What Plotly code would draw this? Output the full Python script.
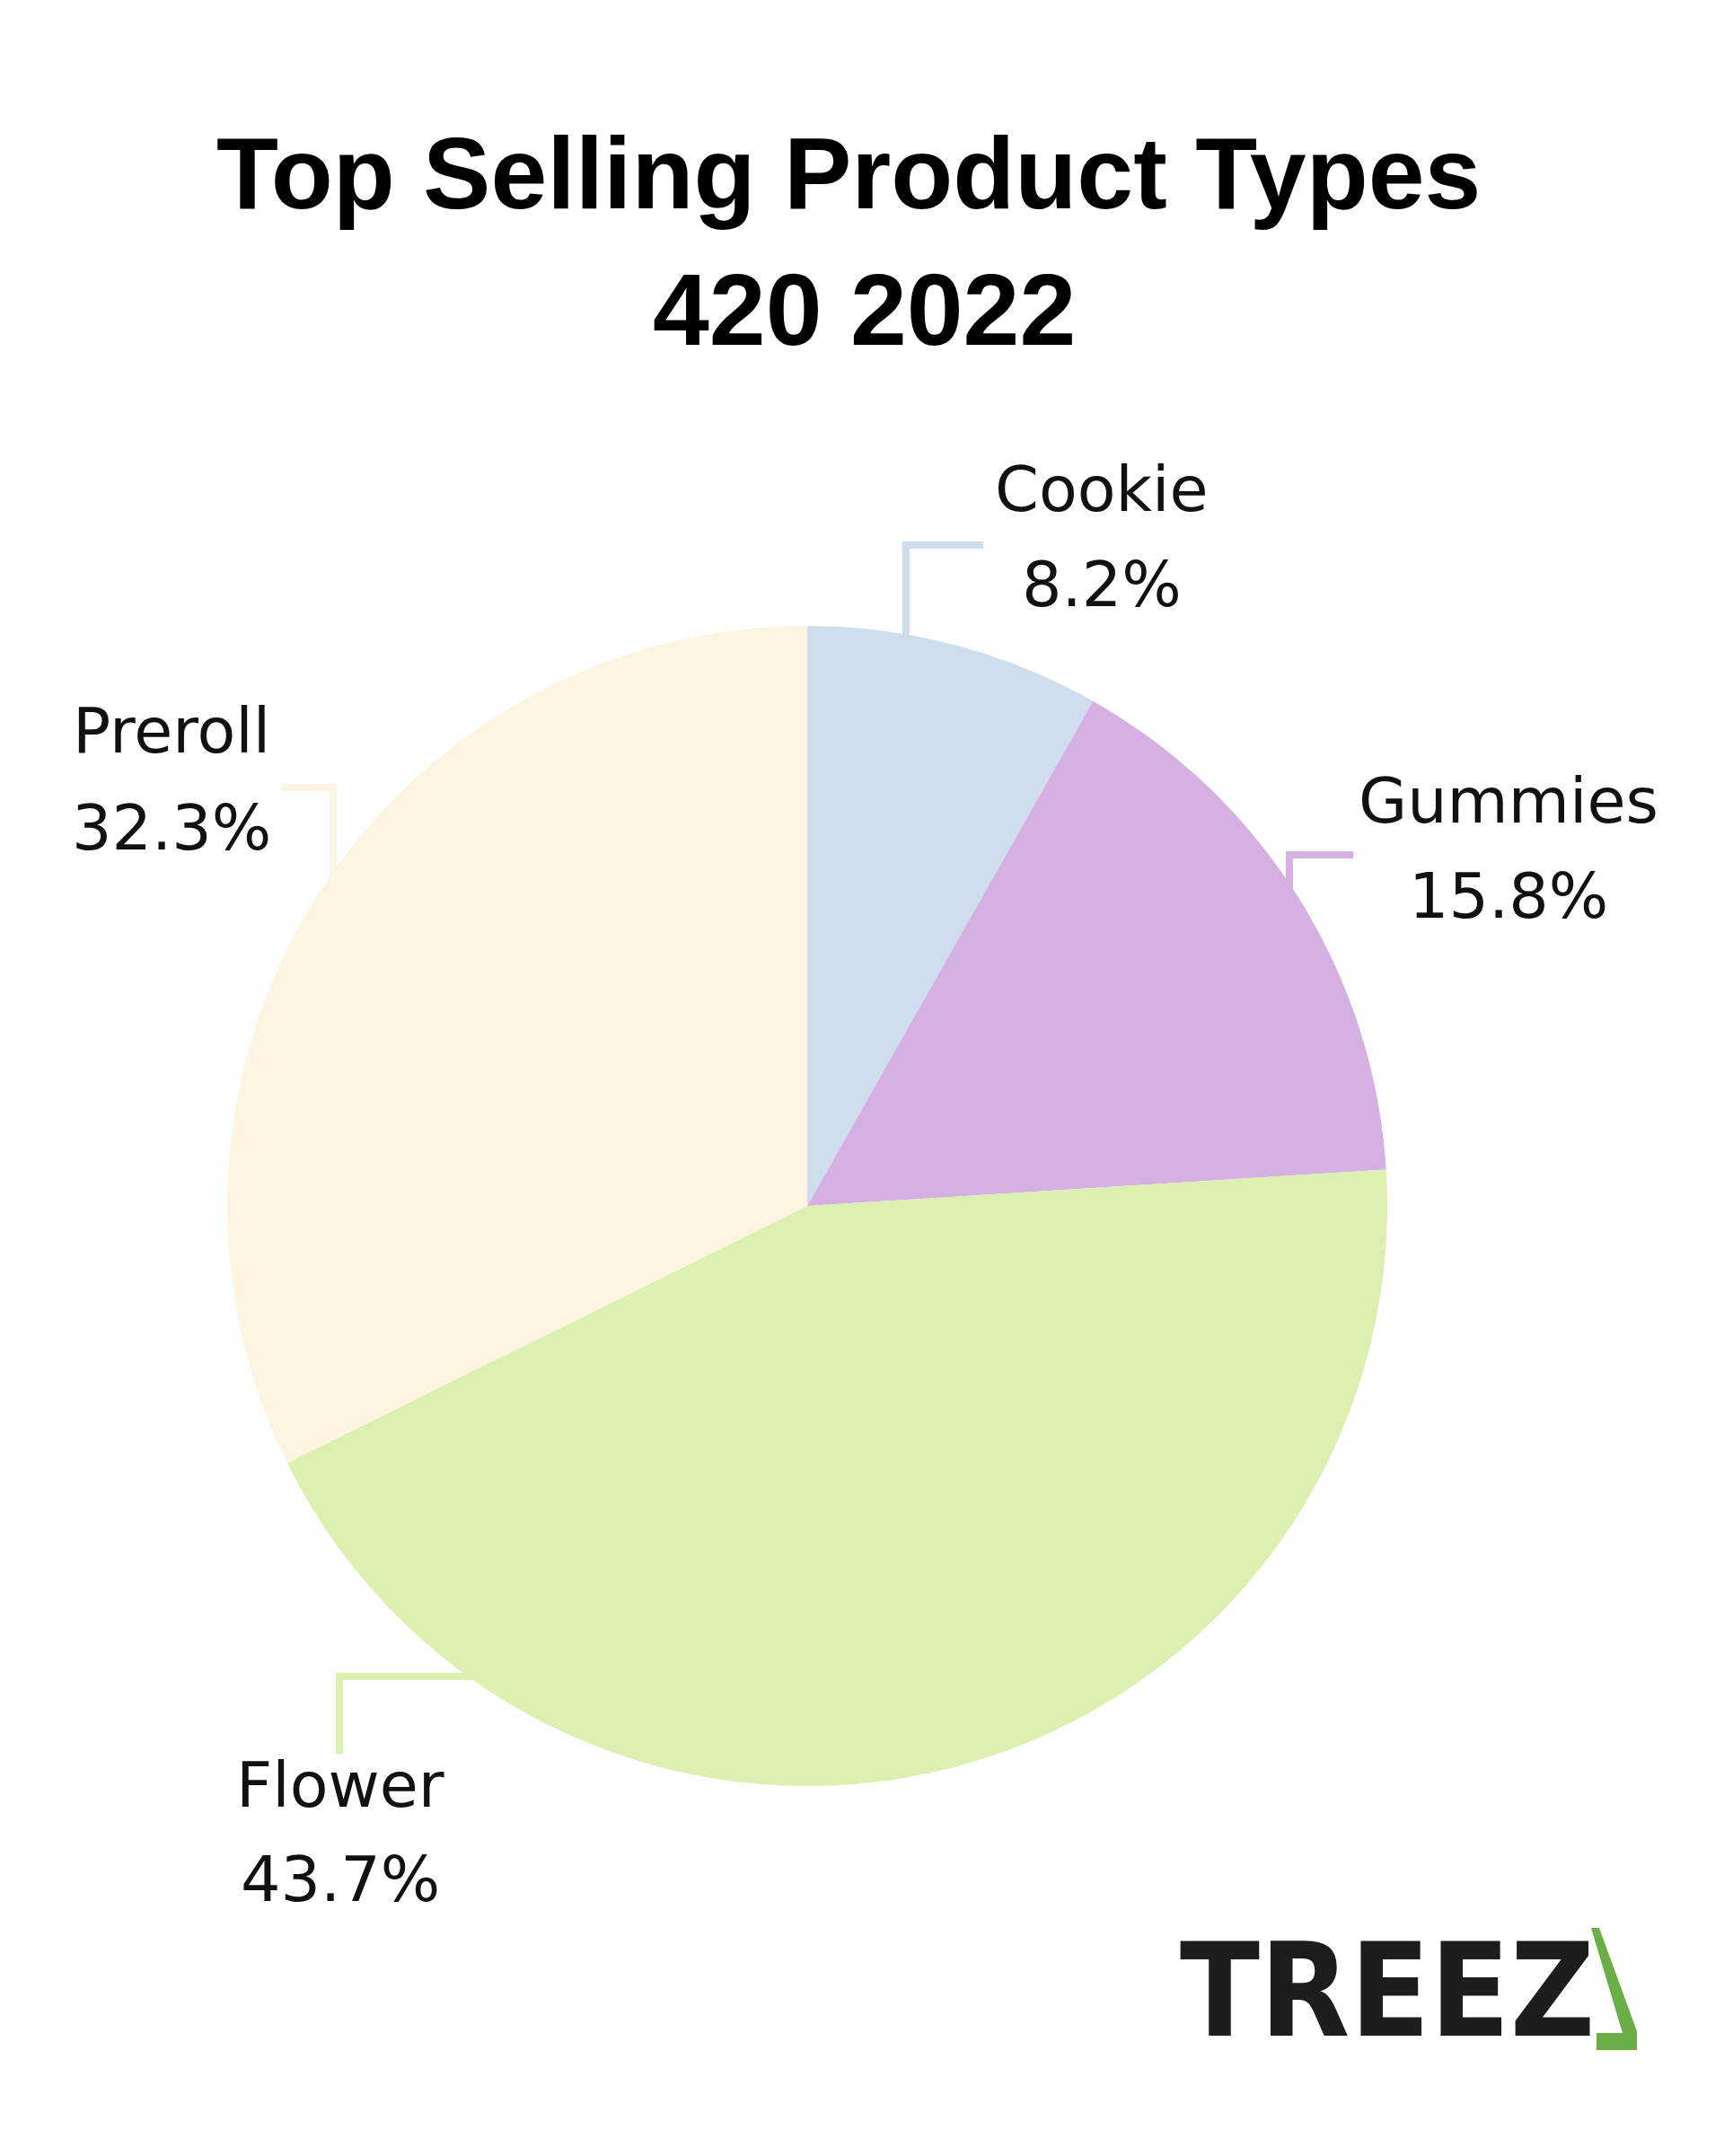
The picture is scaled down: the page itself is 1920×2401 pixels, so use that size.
import plotly.graph_objects as go

# ---- data ----
categories = ["Cookie", "Gummies", "Flower", "Preroll"]
shares = [8.2, 15.8, 43.7, 32.3]
slice_colors = ["#CEDEEC", "#D4B1E2", "#DCF0B0", "#FDF5E1"]
title_lines = ["Top Selling Product Types", "420 2022"]
logo_text = "TREEZ"

# ---- layout constants (pixels in the 1920x2401 page) ----
OFF = 8  # default page body margin
W, H = 1920 - OFF, 2401 - OFF
def px(x):
    return (x - OFF) / W
def py(y):
    return 1 - (y - OFF) / H

cx, cy, r = 899, 1343, 646

# label positions: (x, name_y, pct_y)
label_pos = {
    "Cookie": (1227, 545, 651),
    "Gummies": (1680, 892, 998),
    "Flower": (379, 1988, 2093),
    "Preroll": (191, 814, 922),
}
# elbow leader lines (pixel points)
leaders = {
    "Cookie": [(1009, 712), (1009, 607), (1095, 607)],
    "Gummies": [(1436, 990), (1436, 952), (1507, 952)],
    "Flower": [(530, 1867), (378, 1867), (378, 1953)],
    "Preroll": [(371, 975), (371, 877), (313, 877)],
}
title_pos = [(945, 193), (962, 345)]

fig = go.Figure(
    go.Pie(
        labels=categories,
        values=shares,
        marker=dict(colors=slice_colors, line=dict(width=0)),
        sort=False,
        direction="clockwise",
        rotation=0,
        textinfo="none",
        hoverinfo="label+percent",
        showlegend=False,
        domain=dict(x=[px(cx - r), px(cx + r)], y=[py(cy + r), py(cy - r)]),
    )
)

shapes = []
for name, color in zip(categories, slice_colors):
    pts = leaders[name]
    path = "M " + " L ".join(f"{px(x):.5f},{py(y):.5f}" for x, y in pts)
    shapes.append(dict(type="path", path=path, xref="paper", yref="paper",
                       line=dict(color=color, width=8), layer="below"))

# logo green mark
logo_pts = [(1772, 2147), (1781, 2147), (1823, 2262), (1823, 2283),
            (1778, 2283), (1778, 2264), (1807, 2264)]
logo_path = "M " + " L ".join(f"{px(x):.5f},{py(y):.5f}" for x, y in logo_pts) + " Z"
shapes.append(dict(type="path", path=logo_path, xref="paper", yref="paper",
                   fillcolor="#6AAF45", line=dict(width=0)))

annotations = []
for line, (tx, ty) in zip(title_lines, title_pos):
    annotations.append(dict(text=line, x=px(tx), y=py(ty), xref="paper", yref="paper",
                            xanchor="center", yanchor="middle", showarrow=False,
                            font=dict(family="Liberation Sans", size=113, color="#000000",
                                      weight="bold")))

label_font = dict(family="DejaVu Sans", size=70, color="#111111")
for name, val in zip(categories, shares):
    x, yn, yp = label_pos[name]
    annotations.append(dict(text=name, x=px(x), y=py(yn), xref="paper", yref="paper",
                            xanchor="center", yanchor="middle", showarrow=False,
                            font=label_font))
    annotations.append(dict(text=f"{val}%", x=px(x), y=py(yp), xref="paper", yref="paper",
                            xanchor="center", yanchor="middle", showarrow=False,
                            font=label_font))

annotations.append(dict(text=logo_text, x=px(1778), y=py(2216), xref="paper", yref="paper",
                        xanchor="right", yanchor="middle", showarrow=False,
                        font=dict(family="DejaVu Sans Condensed, Liberation Sans, sans-serif",
                                  size=145, color="#1D1D1B", weight="bold")))

fig.update_layout(
    width=W, height=H, autosize=False,
    margin=dict(l=0, r=0, t=0, b=0, pad=0),
    paper_bgcolor="white", plot_bgcolor="white",
    shapes=shapes,
    annotations=annotations,
)

fig.write_html("out.html")
